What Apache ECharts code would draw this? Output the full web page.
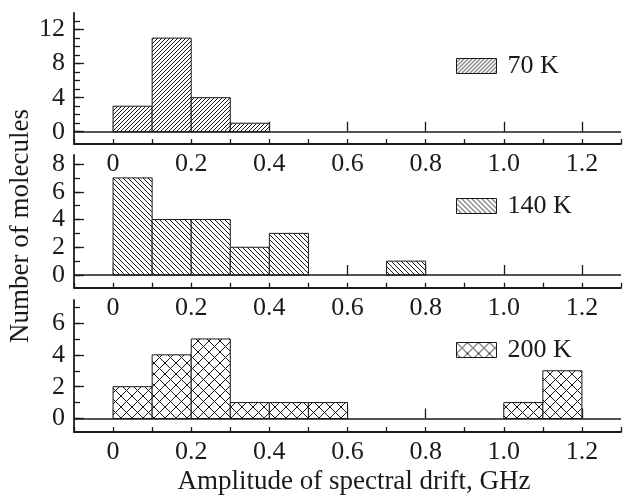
<!DOCTYPE html>
<html><head><meta charset="utf-8">
<script src="https://cdn.jsdelivr.net/npm/echarts@6/dist/echarts.min.js"></script>
<style>html,body{margin:0;padding:0;background:#fff}#c{width:632px;height:496px}</style>
</head><body><div id="c"></div>
<script>
// ---- data ----
const seriesNames = ['70 K', '140 K', '200 K'];
const binWidth = 0.1;
const bins70 = [0.0, 0.1, 0.2, 0.3];
const counts70 = [3, 11, 4, 1];
const bins140 = [0.0, 0.1, 0.2, 0.3, 0.4, 0.7];
const counts140 = [7, 4, 4, 2, 3, 1];
const bins200 = [0.0, 0.1, 0.2, 0.3, 0.4, 0.5, 1.0, 1.1];
const counts200 = [2, 4, 5, 1, 1, 1, 1, 3];
const xTickLabels = ['0', '0.2', '0.4', '0.6', '0.8', '1.0', '1.2'];
const yTickLabels70 = ['0', '4', '8', '12'];
const yTickLabels140 = ['0', '2', '4', '6', '8'];
const yTickLabels200 = ['0', '2', '4', '6'];
const xTitle = 'Amplitude of spectral drift, GHz';
const yTitle = 'Number of molecules';

// ---- layout / style ----
const FONT = 'Liberation Serif';
const INK = '#1a1a1a';
const LEFT = 74, RIGHT = 11;
const panels = [
  {top: 13, bottom: 144, yMin: -1.44, yMax: 13.95, tickTop: 13, major: 4, legendY: 68},
  {top: 155, bottom: 287.7, yMin: -0.915, yMax: 8.65, tickTop: 8, major: 2, legendY: 208},
  {top: 300, bottom: 432, yMin: -0.85, yMax: 7.45, tickTop: 7, major: 2, legendY: 352}
];
const bins = [bins70, bins140, bins200];
const counts = [counts70, counts140, counts200];
const yLabels = [yTickLabels70, yTickLabels140, yTickLabels200];

function hatch(kind) {
  const s = kind === 'cross' ? 11 : (kind === 'fwd' ? 4 : 5);
  const c = document.createElement('canvas');
  c.width = s; c.height = s;
  const g = c.getContext('2d');
  g.fillStyle = '#fff'; g.fillRect(0, 0, s, s);
  g.strokeStyle = '#1a1a1a'; g.lineWidth = 1;
  g.beginPath();
  if (kind === 'fwd' || kind === 'cross') {
    for (const o of [-s, 0, s]) { g.moveTo(o, s); g.lineTo(o + s, 0); }
  }
  if (kind === 'back' || kind === 'cross') {
    for (const o of [-s, 0, s]) { g.moveTo(o, 0); g.lineTo(o + s, s); }
  }
  g.stroke();
  return {image: c, repeat: 'repeat'};
}
const patterns = [hatch('fwd'), hatch('back'), hatch('cross')];

function pix(p, v) {
  return p.bottom - (v - p.yMin) / (p.yMax - p.yMin) * (p.bottom - p.top);
}

const grid = [], xAxis = [], yAxis = [], series = [], legend = [];
const nX = Math.round(1.4 / 0.1) + 1;
panels.forEach((p, i) => {
  const zeroY = pix(p, 0), topY = pix(p, p.tickTop);
  grid.push({left: LEFT, right: RIGHT, top: p.top, height: p.bottom - p.top});
  grid.push({left: LEFT, right: RIGHT, top: topY, height: zeroY - topY});
  const gA = 2 * i, gB = 2 * i + 1;
  xAxis.push({
    type: 'value', gridIndex: gA, position: 'bottom', min: -0.1, max: 1.3, interval: 0.1,
    axisLine: {show: true, onZero: false, lineStyle: {color: INK, width: 1.8}},
    axisTick: {show: true, inside: true, length: 5, lineStyle: {color: INK, width: 1.3}},
    splitLine: {show: false},
    axisLabel: {
      show: true, margin: 7, fontFamily: FONT, fontSize: 26, color: INK,
      formatter: v => { const k = Math.round(v * 10); return (k >= 0 && k <= 12 && k % 2 === 0) ? xTickLabels[k / 2] : ''; }
    }
  });
  xAxis.push({
    type: 'category', gridIndex: gA, position: 'bottom', boundaryGap: false,
    data: Array.from({length: nX}, (_, k) => String(k)),
    axisLine: {show: false}, axisLabel: {show: false}, splitLine: {show: false},
    axisTick: {show: true, inside: true, length: 10, interval: (idx) => idx % 2 === 1, lineStyle: {color: INK, width: 1.3}}
  });
  xAxis.push({type: 'value', gridIndex: gB, show: false, min: 0, max: 1});
  yAxis.push({
    type: 'value', gridIndex: gA, position: 'left', min: p.yMin, max: p.yMax,
    axisLine: {show: true, onZero: false, lineStyle: {color: INK, width: 1.8}},
    axisTick: {show: false}, axisLabel: {show: false}, splitLine: {show: false}
  });
  const yCats = Array.from({length: p.tickTop + 1}, (_, k) => String(k));
  yAxis.push({
    type: 'category', gridIndex: gB, position: 'left', boundaryGap: false, data: yCats,
    axisLine: {show: false}, axisLabel: {show: false}, splitLine: {show: false},
    axisTick: {show: true, inside: true, length: 6, interval: 0, lineStyle: {color: INK, width: 1.3}}
  });
  yAxis.push({
    type: 'category', gridIndex: gB, position: 'left', boundaryGap: false, data: yCats,
    axisLine: {show: false}, splitLine: {show: false},
    axisTick: {show: true, inside: true, length: 10, interval: (idx) => idx % p.major === 0, lineStyle: {color: INK, width: 1.3}},
    axisLabel: {show: true, margin: 9, fontFamily: FONT, fontSize: 26, color: INK,
      interval: (idx) => idx % p.major === 0,
      formatter: (v, idx) => yLabels[i][Math.round(Number(v) / p.major)] }
  });
  const pat = patterns[i];
  series.push({
    type: 'custom', name: seriesNames[i], xAxisIndex: 3 * i, yAxisIndex: 3 * i,
    data: bins[i].map((b, k) => [b, counts[i][k]]),
    itemStyle: {color: pat, borderColor: INK, borderWidth: 1},
    renderItem: (params, api) => {
      const x0 = api.value(0), y = api.value(1);
      const a = api.coord([x0, 0]), b = api.coord([x0 + binWidth, y]);
      return {type: 'rect', shape: {x: a[0], y: b[1], width: b[0] - a[0], height: a[1] - b[1]},
        style: {fill: pat, stroke: INK, lineWidth: 1}};
    },
    markLine: {silent: true, symbol: 'none', label: {show: false},
      lineStyle: {color: INK, width: 1.5, type: 'solid'},
      emphasis: {disabled: true},
      data: [{yAxis: 0}]}
  });
  legend.push({
    left: 456, top: p.legendY - 15, padding: 0, itemWidth: 40, itemHeight: 15, icon: 'rect',
    selectedMode: false,
    data: [{name: seriesNames[i], itemStyle: {color: pat, borderColor: INK, borderWidth: 1}}],
    textStyle: {fontFamily: FONT, fontSize: 26, color: INK, padding: [0, 0, 0, 6]}
  });
});

const option = {
  animation: false,
  backgroundColor: '#fff',
  grid, xAxis, yAxis, series, legend,
  graphic: [
    {type: 'text', x: 21, y: 226, rotation: Math.PI / 2,
      style: {text: yTitle, fontFamily: FONT, fontSize: 27, fill: INK, textAlign: 'center', textVerticalAlign: 'middle'}},
    {type: 'text', x: 354, y: 482,
      style: {text: xTitle, fontFamily: FONT, fontSize: 27, fill: INK, textAlign: 'center', textVerticalAlign: 'middle'}}
  ]
};
const chart = echarts.init(document.getElementById('c'), null, {renderer: 'canvas'});
chart.setOption(option);
</script></body></html>
